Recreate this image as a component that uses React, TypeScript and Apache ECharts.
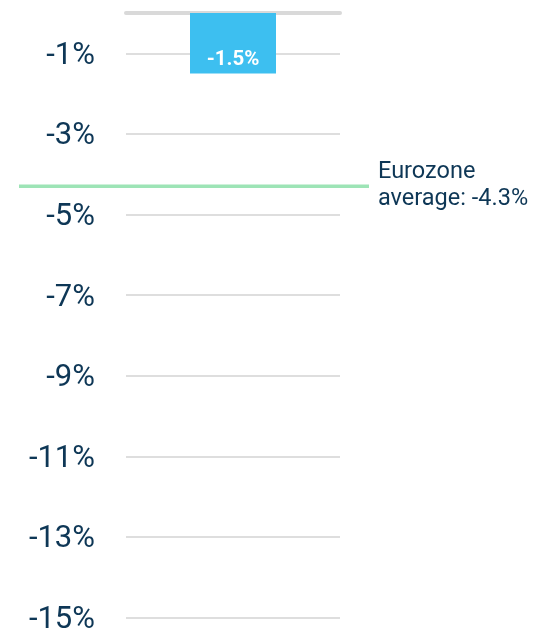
import React, { useEffect, useRef } from "react";
import * as echarts from "echarts";

const categories = ["Country"];
const values = [-1.5];
const tickValues = [-1, -3, -5, -7, -9, -11, -13, -15];
const eurozoneAverage = -4.3;
const eurozoneLabel = "Eurozone\naverage: -4.3%";

const NAVY = "#0e3756";

export default function App() {
  const ref = useRef<HTMLDivElement>(null);
  useEffect(() => {
    if (!ref.current) return;
    const chart = echarts.init(ref.current, null, { renderer: "svg" });
    chart.setOption({
      animation: false,
      grid: { left: 126, right: 202, top: 13, bottom: 1.4, containLabel: false },
      xAxis: {
        type: "category",
        data: categories,
        position: "top",
        offset: 2,
        axisLine: { show: true, lineStyle: { color: "#d9d9d9", width: 4 } },
        axisTick: { show: false },
        axisLabel: { show: false },
        splitLine: { show: false },
      },
      yAxis: {
        type: "value",
        min: -15.3,
        max: 0,
        axisLine: { show: false },
        axisTick: { show: false, customValues: tickValues },
        axisLabel: {
          customValues: tickValues,
          formatter: (v: number) => `${v}%`,
          fontFamily: "Roboto",
          fontSize: 31,
          color: NAVY,
          margin: 31,
        },
        splitLine: { show: true, lineStyle: { color: "#dedede", width: 2 } },
      },
      series: [
        {
          type: "bar",
          data: values,
          barWidth: 86,
          itemStyle: { color: "#3dbff0" },
          label: {
            show: true,
            position: "insideBottom",
            distance: 5,
            formatter: (p: any) => `${p.value}%`,
            color: "#ffffff",
            fontFamily: "Roboto",
            fontWeight: "bold",
            fontSize: 20.5,
          },
        },
      ],
    });
    const y = chart.convertToPixel({ yAxisIndex: 0 }, eurozoneAverage) as number;
    chart.setOption({
      graphic: [
        {
          type: "line",
          shape: { x1: 19, y1: y, x2: 369, y2: y },
          style: { stroke: "#9de4b6", lineWidth: 3.5 },
          z: 10,
        },
        {
          type: "text",
          x: 378,
          y: y - 3,
          style: {
            text: eurozoneLabel,
            fill: NAVY,
            fontFamily: "Roboto",
            fontSize: 23.5,
            lineHeight: 27,
            textVerticalAlign: "middle",
            textAlign: "left",
          },
        },
      ],
    });
    return () => chart.dispose();
  }, []);
  return (
    <div
      ref={ref}
      style={{ position: "fixed", left: 0, top: 0, width: 542, height: 633 }}
    />
  );
}
